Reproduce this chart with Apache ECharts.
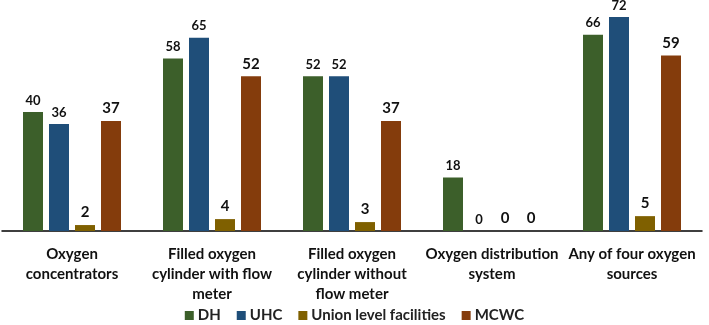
<!DOCTYPE html>
<html>
<head>
<meta charset="utf-8">
<script src="https://cdn.jsdelivr.net/npm/echarts@6/dist/echarts.min.js"></script>
<style>
html, body { margin: 0; padding: 0; background: #fff; }
#main { width: 709px; height: 325px; }
</style>
</head>
<body>
<div id="main"></div>
<script>
// categories on the x axis (line breaks as in the figure)
const categories = [
    'Oxygen\nconcentrators',
    'Filled oxygen\ncylinder with flow\nmeter',
    'Filled oxygen\ncylinder without\nflow meter',
    'Oxygen distribution\nsystem',
    'Any of four oxygen\nsources'
];
const dh = [40, 58, 52, 18, 66];
const uhc = [36, 65, 52, 0, 72];
const union = [2, 4, 3, 0, 5];
const mcwc = [37, 52, 37, 0, 59];

const FONT = 'Lato';

function makeSeries(name, data, color, big){
    return {
        name: name,
        type: 'bar',
        data: data,
        barWidth: 20,
        barGap: '30%',
        itemStyle: {color: color},
        label: {
            show: true,
            position: 'top',
            distance: 5,
            color: '#111',
            fontFamily: FONT,
            fontWeight: 'bold',
            fontSize: big ? 15 : 13
        }
    };
}

let chart = echarts.init(document.getElementById('main'));
chart.setOption({
    animation: false,
    grid: {left: 2, right: 7, top: 5, bottom: 94, containLabel: false},
    legend: {
        left: 'center',
        top: 303,
        padding: [5, 5, 0, 5],
        itemWidth: 9,
        itemHeight: 9,
        itemGap: 16,
        icon: 'rect',
        textStyle: {fontFamily: FONT, fontSize: 15, fontWeight: 'bold', color: '#222', padding: [0, 0, 0, -1]},
        data: ['DH', 'UHC', 'Union level facilities', 'MCWC']
    },
    xAxis: {
        type: 'category',
        data: categories,
        axisLine: {lineStyle: {color: '#000', width: 1.5}},
        axisTick: {show: false},
        axisLabel: {
            interval: 0,
            margin: 13,
            lineHeight: 20,
            fontFamily: FONT,
            fontSize: 15,
            fontWeight: 'bold',
            color: '#111'
        }
    },
    yAxis: {
        type: 'value',
        min: 0,
        max: 76,
        show: false,
        splitLine: {show: false}
    },
    series: [
        makeSeries('DH', dh, '#3c5f2a', false),
        makeSeries('UHC', uhc, '#1f4e79', false),
        makeSeries('Union level facilities', union, '#7f6000', true),
        makeSeries('MCWC', mcwc, '#843c0c', true)
    ]
});
</script>
</body>
</html>
